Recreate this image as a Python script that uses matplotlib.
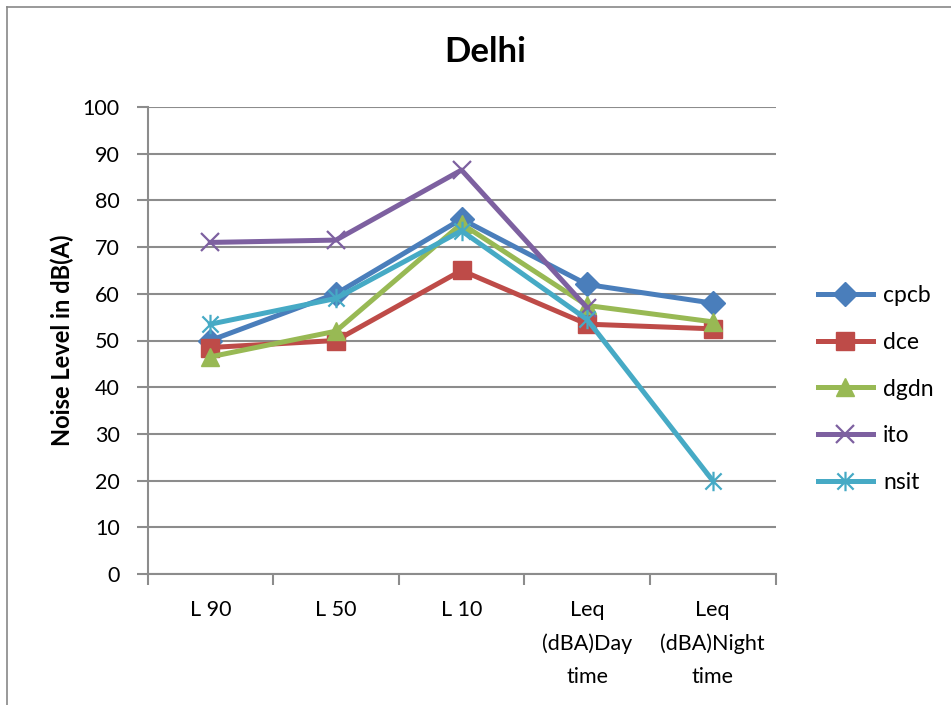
import matplotlib
matplotlib.use("Agg")
import matplotlib.pyplot as plt
from matplotlib.lines import Line2D
from matplotlib.path import Path
import numpy as np

categories = ["L 90", "L 50", "L 10", "Leq\n(dBA)Day\ntime", "Leq\n(dBA)Night\ntime"]
cpcb = [50, 60, 76, 62, 58]
dce = [48.5, 50, 65, 53.5, 52.5]
dgdn = [46.5, 52, 75, 57.5, 54]
ito = [71, 71.5, 86.5, 57, np.nan]
nsit = [53.5, 59, 73.5, 54.5, 20]

# asterisk marker: a cross with a vertical stroke through it
star = Path([(-1, -1), (1, 1), (-1, 1), (1, -1), (0, -1.2), (0, 1.2)],
            [Path.MOVETO, Path.LINETO, Path.MOVETO, Path.LINETO, Path.MOVETO, Path.LINETO])

series = [
    ("cpcb", cpcb, "#4A7EBB", "D", 12),
    ("dce", dce, "#BE4B48", "s", 13),
    ("dgdn", dgdn, "#98B954", "^", 13),
    ("ito", ito, "#7D60A0", "x", 13),
    ("nsit", nsit, "#46AAC5", star, 14),
]

plt.rcParams['font.family'] = ['Lato', 'DejaVu Sans']
grid_col = "#8C8C8C"
fs = 15.5

fig = plt.figure(figsize=(9.51, 7.05), dpi=100)
ax = fig.add_axes([147.5 / 951, 1 - 574 / 705, (775.5 - 147.5) / 951, (574 - 107) / 705])

x = np.arange(len(categories))
handles = []
for name, vals, col, mk, ms in series:
    stroked = not isinstance(mk, str) or mk == "x"
    h, = ax.plot(x, vals, color=col, lw=3.6, marker=mk, ms=ms,
                 mew=1.6 if stroked else 1.0, label=name)
    handles.append(h)

ax.set_xlim(-0.5, len(categories) - 0.5)
ax.set_ylim(0, 100)
ax.set_yticks(np.arange(0, 101, 10))
ax.yaxis.grid(True, color=grid_col, lw=1.5)
ax.set_axisbelow(True)
for s in ["top", "right"]:
    ax.spines[s].set_visible(False)
for s in ["left", "bottom"]:
    ax.spines[s].set_color(grid_col)
    ax.spines[s].set_linewidth(1.5)

ax.set_xticks(np.arange(-0.5, len(categories), 1.0))
ax.set_xticklabels([])
ax.set_xticks(x, minor=True)
ax.set_xticklabels(categories, minor=True, fontsize=fs, linespacing=1.8, va="top")
ax.tick_params(axis="x", which="major", length=8, color=grid_col, width=1.5, direction="out")
ax.tick_params(axis="x", which="minor", length=0, pad=19)
ax.tick_params(axis="y", length=8, color=grid_col, width=1.5, labelsize=fs, pad=12)

ax.set_ylabel("Noise Level in dB(A)", fontsize=17, fontweight="bold", labelpad=6)
fig.text(485 / 951, 1 - 52 / 705, "Delhi", ha="center", va="center", fontsize=25, fontweight="bold")

fig.legend(handles=handles, loc="center left", bbox_to_anchor=(797 / 951, 1 - 389 / 705),
           frameon=False, fontsize=16.5, handlelength=2.4, labelspacing=1.12, handletextpad=0.45)

# chart frame edges
fig.add_artist(Line2D([7 / 951, 7 / 951], [0, 1 - 7 / 705], color="#888888", lw=1.2))
fig.add_artist(Line2D([7 / 951, 1], [1 - 7 / 705, 1 - 7 / 705], color="#888888", lw=1.2))

fig.savefig("out.png", dpi=100)
